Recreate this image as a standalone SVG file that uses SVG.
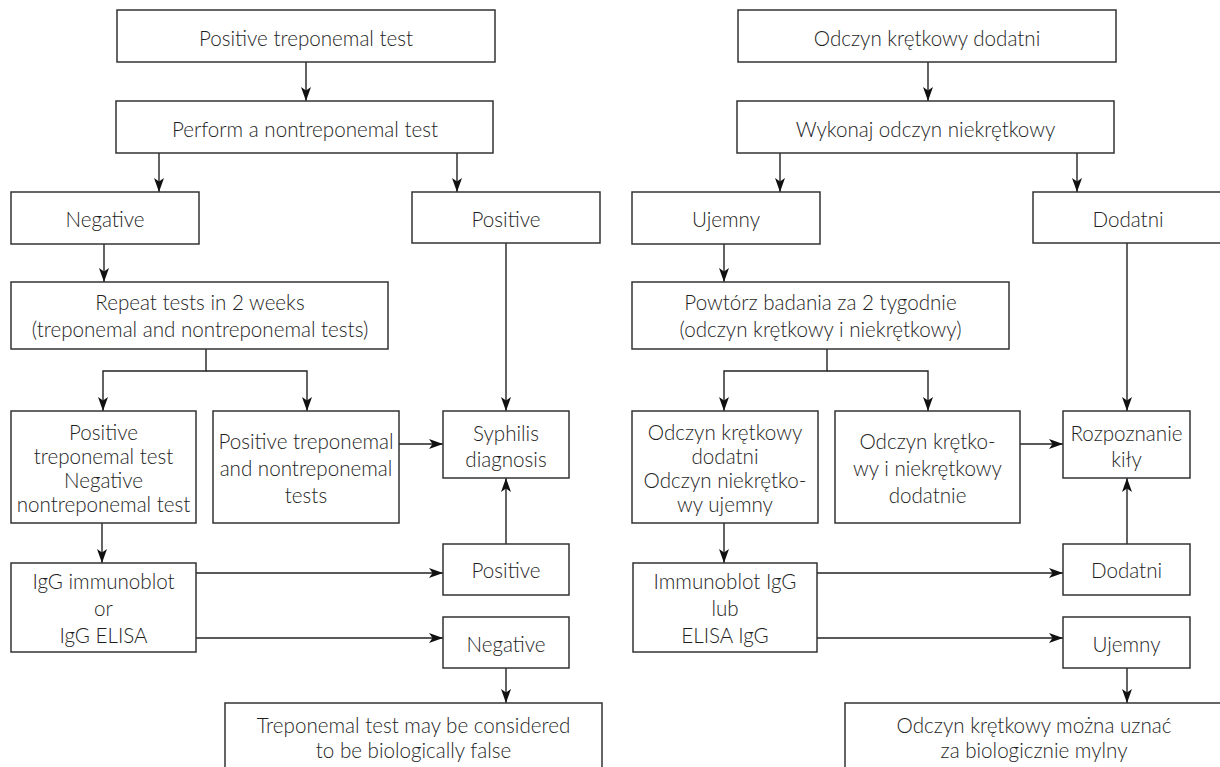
<svg xmlns="http://www.w3.org/2000/svg" width="1220" height="767" viewBox="0 0 1220 767">
<style>
.b{fill:#fff;stroke:#333;stroke-width:1.5}
.c{fill:none;stroke:#222;stroke-width:1.4;marker-end:url(#ah)}
text{font-family:Lato,"Open Sans","Liberation Sans",sans-serif;font-weight:300;font-size:20.6px;fill:#1e1e1e;text-anchor:middle}
</style>
<defs>
<marker id="ah" viewBox="0 0 14 10" refX="14" refY="5" markerWidth="14" markerHeight="10" markerUnits="userSpaceOnUse" orient="auto">
<path d="M0,0 L14,5 L0,10 L3.5,5 Z" fill="#111"/>
</marker>
</defs>
<rect width="1220" height="767" fill="#fff"/>
<g id="connectors">
<path class="c" d="M306,62 V101"/>
<path class="c" d="M159,153 V192"/>
<path class="c" d="M457,153 V192"/>
<path class="c" d="M104,244 V282"/>
<path class="c" d="M506,243 V411"/>
<path class="c" d="M206,349 V371 H103 V411"/>
<path class="c" d="M206,371 H307 V411"/>
<path class="c" d="M399,444 H443"/>
<path class="c" d="M102,523 V563"/>
<path class="c" d="M196,573 H443"/>
<path class="c" d="M196,638 H443"/>
<path class="c" d="M506,544 V478"/>
<path class="c" d="M506,668 V703"/>
<path class="c" d="M928,62 V101"/>
<path class="c" d="M780,153 V192"/>
<path class="c" d="M1077,153 V192"/>
<path class="c" d="M724,244 V282"/>
<path class="c" d="M1127,243 V411"/>
<path class="c" d="M827,349 V371 H724 V411"/>
<path class="c" d="M827,371 H928 V411"/>
<path class="c" d="M1020,444 H1063"/>
<path class="c" d="M724,523 V563"/>
<path class="c" d="M817,573 H1063"/>
<path class="c" d="M817,638 H1063"/>
<path class="c" d="M1127,544 V478"/>
<path class="c" d="M1127,668 V703"/>
</g>
<g id="n1"><rect class="b" x="117" y="10" width="378" height="52"/><text x="306" y="46">Positive treponemal test</text></g>
<g id="n2"><rect class="b" x="116" y="101" width="377" height="52"/><text x="305" y="137">Perform a nontreponemal test</text></g>
<g id="n3"><rect class="b" x="11" y="192" width="188" height="52"/><text x="105" y="227">Negative</text></g>
<g id="n4"><rect class="b" x="412" y="192" width="188" height="51"/><text x="506" y="227">Positive</text></g>
<g id="n5"><rect class="b" x="11" y="282" width="377" height="67"/><text x="200" y="310">Repeat tests in 2 weeks</text><text x="200" y="337">(treponemal and nontreponemal tests)</text></g>
<g id="n6"><rect class="b" x="11" y="411" width="185" height="112"/><text x="103.5" y="440">Positive</text><text x="103.5" y="464">treponemal test</text><text x="103.5" y="488">Negative</text><text x="103.5" y="512">nontreponemal test</text></g>
<g id="n7"><rect class="b" x="213" y="411" width="186" height="112"/><text x="306" y="449">Positive treponemal</text><text x="306" y="476">and nontreponemal</text><text x="306" y="503">tests</text></g>
<g id="n8"><rect class="b" x="443" y="411" width="126" height="67"/><text x="506" y="441">Syphilis</text><text x="506" y="467">diagnosis</text></g>
<g id="n9"><rect class="b" x="11" y="563" width="185" height="89"/><text x="103.5" y="589">IgG immunoblot</text><text x="103.5" y="616">or</text><text x="103.5" y="643">IgG ELISA</text></g>
<g id="n10"><rect class="b" x="443" y="544" width="126" height="51"/><text x="506" y="578">Positive</text></g>
<g id="n11"><rect class="b" x="443" y="617" width="126" height="51"/><text x="506" y="652">Negative</text></g>
<g id="n12"><rect class="b" x="225" y="703" width="377" height="80"/><text x="413.5" y="733">Treponemal test may be considered</text><text x="413.5" y="758">to be biologically false</text></g>
<g id="p1"><rect class="b" x="738" y="10" width="378" height="52"/><text x="927" y="46">Odczyn krętkowy dodatni</text></g>
<g id="p2"><rect class="b" x="737" y="101" width="377" height="52"/><text x="925.5" y="137">Wykonaj odczyn niekrętkowy</text></g>
<g id="p3"><rect class="b" x="632" y="192" width="188" height="52"/><text x="726" y="227">Ujemny</text></g>
<g id="p4"><rect class="b" x="1033" y="192" width="190" height="51"/><text x="1128" y="227">Dodatni</text></g>
<g id="p5"><rect class="b" x="632" y="282" width="377" height="67"/><text x="820.5" y="310">Powtórz badania za 2 tygodnie</text><text x="820.5" y="337">(odczyn krętkowy i niekrętkowy)</text></g>
<g id="p6"><rect class="b" x="632" y="411" width="186" height="112"/><text x="725" y="440">Odczyn krętkowy</text><text x="725" y="464">dodatni</text><text x="725" y="488">Odczyn niekrętko-</text><text x="725" y="512">wy ujemny</text></g>
<g id="p7"><rect class="b" x="835" y="411" width="185" height="112"/><text x="927.5" y="449">Odczyn krętko-</text><text x="927.5" y="476">wy i niekrętkowy</text><text x="927.5" y="503">dodatnie</text></g>
<g id="p8"><rect class="b" x="1063" y="411" width="127" height="67"/><text x="1126.5" y="441">Rozpoznanie</text><text x="1126.5" y="467">kiły</text></g>
<g id="p9"><rect class="b" x="633" y="563" width="184" height="89"/><text x="725" y="589">Immunoblot IgG</text><text x="725" y="616">lub</text><text x="725" y="643">ELISA IgG</text></g>
<g id="p10"><rect class="b" x="1063" y="544" width="127" height="51"/><text x="1126.5" y="578">Dodatni</text></g>
<g id="p11"><rect class="b" x="1063" y="617" width="127" height="51"/><text x="1126.5" y="652">Ujemny</text></g>
<g id="p12"><rect class="b" x="845" y="703" width="380" height="80"/><text x="1034" y="733">Odczyn krętkowy można uznać</text><text x="1034" y="758">za biologicznie mylny</text></g>
</svg>
